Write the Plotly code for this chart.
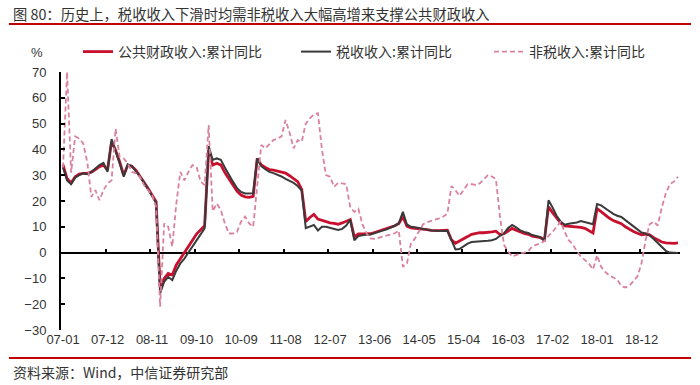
import plotly.graph_objects as go

# ---- data -------------------------------------------------------------
months = [f"{y % 100:02d}-{m:02d}" for y in range(2007, 2020) for m in range(1, 13)][:153]

tick_labels = ["07-01", "07-12", "08-11", "09-10", "10-09", "11-08", "12-07",
               "13-06", "14-05", "15-04", "16-03", "17-02", "18-01", "18-12"]

public_rev = [
    34, 28.7, 27, 29.4, 30.4, 30.7, 30.7, 31.2, 32.2, 33.3, 33.9, 32, 43, 39.7, 35.2, 30,
    33.9, 33.5, 32, 29.7, 27.5, 24.9, 22.3, 19.7, -13.2, -10, -8.1, -8.7, -4.8, -2.3, 0.3, 2.5,
    4.8, 7.2, 9, 10.4, 39.7, 33.9, 34.6, 34, 31, 28.5, 26.3, 23.8, 22.3, 21.6, 21.4, 21.8,
    36.5, 34, 33, 32.2, 32, 31.6, 31.2, 30.8, 29.8, 28.8, 27.5, 24.5, 12, 13.6, 14.8, 13,
    12.4, 12, 11.5, 11.3, 11, 11.5, 12.3, 12.8, 6.1, 7.2, 7.2, 7.3, 7.3, 7.8, 8.3, 8.7,
    9.2, 9.6, 10.4, 11.3, 13.9, 10.2, 9.6, 9.4, 9.3, 9.1, 8.9, 8.6, 8.5, 8.5, 8.6, 8.7,
    5, 3.6, 4.5, 5.2, 6.2, 7.1, 7.4, 7.7, 7.7, 7.8, 8, 8.3, 7, 7.3, 8.5, 9.4,
    8.7, 8, 7.4, 7.1, 6.4, 6.1, 5.8, 5, 17.8, 15.5, 13.5, 11.5, 10.4, 10.3, 10.2, 10,
    9.8, 9.4, 8.5, 7.6, 17.1, 15.7, 14.6, 13.4, 12.4, 11.8, 11.2, 10, 9, 8.2, 7.5, 6.9,
    7.2, 6.9, 5.8, 4.8, 4.1, 3.8, 3.6, 3.6, 3.8,
]

tax_rev = [
    33, 28, 26.5, 29, 30, 30.7, 30.4, 31.2, 32.6, 33.9, 34.8, 31.3, 44, 39.7, 34.6, 29.4,
    34.2, 33.5, 31.6, 29.5, 27.3, 24.7, 22, 19.3, -15.8, -11.3, -9.4, -10.7, -7, -4.2, -2.3, 0,
    2.5, 4.8, 7.2, 9.4, 41.3, 35.9, 36.5, 36, 33, 30, 27.5, 25, 23.5, 22.9, 22.9, 23,
    36.5, 33.5, 32.3, 31.3, 30.8, 30.3, 29.5, 28.6, 27.9, 27, 25.8, 24, 9.5, 10, 10.7, 8.6,
    10, 10, 9.5, 9.2, 8.8, 9.2, 10.5, 12.8, 4.8, 6.4, 6.8, 7, 7, 7.6, 8.2, 8.5,
    9, 9.6, 10.4, 11.3, 15.8, 10.9, 10, 9.8, 9.4, 9.1, 8.9, 8.6, 8.5, 8.4, 8.4, 8.5,
    4.5, 1.2, 1.4, 2.4, 3.5, 4.1, 4.2, 4.2, 4.4, 4.6, 4.8, 5.3, 6.5, 7.5, 9.5, 10.7,
    9.8, 8.6, 8, 7.6, 6.8, 6.5, 6, 4.5, 20.3, 17.5, 14.3, 12, 10.8, 11.2, 11.4, 11.7,
    12.2, 11.9, 11.4, 11, 18.8, 18.3, 17.2, 16, 15, 14.3, 13.8, 12.6, 11.4, 10, 8.8, 7.8,
    7.4, 6.6, 5.3, 3.8, 2.4, 0.7, 0, -0.1, -0.2,
]

nontax_rev = [
    33, 70, 31, 45, 44.2, 42.3, 35, 21.6, 24.2, 20.3, 24.2, 26.8, 28, 48, 37.1, 36.5,
    34.6, 31.3, 30.7, 29.4, 26.2, 24.2, 22.3, 17.8, -21, 11.3, 10, 2.3, 19, 31.3, 28, 31.3,
    33.9, 33.3, 27.5, 26.2, 49.4, 16, 19, 16.5, 11.3, 7.4, 7.4, 8, 12, 14, 11.3, 10,
    25, 41.7, 40.4, 42, 43.6, 44.2, 45, 51.4, 46.5, 40.4, 43.6, 43, 50, 52, 53.5, 54,
    40, 30, 29.4, 25.5, 27, 26.8, 26.5, 17.5, 15.8, 17, 11, 7.5, 5.5, 5.3, 5.7, 6.1,
    6.4, 6.8, 7.5, 8.5, -5.5, -4.2, 3.5, 5.5, 8, 11, 11.8, 12.2, 12.8, 13.3, 14, 15,
    25.8, 24.2, 22, 24.5, 26.5, 26.5, 26.2, 26.8, 28.5, 30, 29.5, 28.5, 14, 3, 0.5, -1.5,
    -1, -0.3, 0, 0.5, 2.5, 3, 3.6, 4.5, 6.5, 8, 10, 12, 8, 4.8, 3.2, 0.5,
    -1.5, -3, -4.3, -6.5, -1, -5.5, -7.5, -8.8, -9.5, -10.5, -13, -13.5, -12.8, -11, -9.2, -4,
    4.8, 11, 12, 10.5, 17.5, 23, 26.5, 27.5, 29.4,
]

series_names = ["公共财政收入:累计同比", "税收收入:累计同比", "非税收入:累计同比"]
title_text = "图 80：历史上，税收收入下滑时均需非税收入大幅高增来支撑公共财政收入"
source_text = "资料来源：Wind，中信证券研究部"

# ---- geometry helpers (pixel -> paper) --------------------------------
W, H = 700, 385
L, R, T, B = 61, 20, 72, 55
PW, PH = W - L - R, H - T - B


def px(x):
    return (x - L) / PW


def py(y):
    return (H - B - y) / PH


CJK = "Noto Sans CJK SC"
LAT = "Liberation Sans, Arial, Noto Sans CJK SC"
RED = "#C8102E"
DARK = "#3a3a3a"
PINK = "#D9829E"

fig = go.Figure()
fig.add_trace(go.Scatter(x=months, y=public_rev, name=series_names[0], mode="lines",
                         line=dict(color=RED, width=2.8), legend="legend"))
fig.add_trace(go.Scatter(x=months, y=tax_rev, name=series_names[1], mode="lines",
                         line=dict(color=DARK, width=2), legend="legend2"))
fig.add_trace(go.Scatter(x=months, y=nontax_rev, name=series_names[2], mode="lines",
                         line=dict(color=PINK, width=1.8, dash="5px,3px"), legend="legend3"))
# helper trace so the zero-line tick axis is drawn
fig.add_trace(go.Scatter(x=[None], y=[None], xaxis="x2", showlegend=False,
                         hoverinfo="skip", mode="lines"))

label_idx = [months.index(t) for t in tick_labels]
boundary_ticks = [i - 0.5 for i in label_idx if i > 0]

leg_common = dict(orientation="h", xanchor="left", y=py(36), yanchor="top",
                  font=dict(family=CJK, size=14, color="#333333"),
                  bgcolor="rgba(0,0,0,0)")

fig.update_layout(
    width=W, height=H,
    margin=dict(l=L, r=R, t=T, b=B),
    paper_bgcolor="white", plot_bgcolor="white",
    showlegend=True,
    legend=dict(x=px(78), **leg_common),
    legend2=dict(x=px(296), **leg_common),
    legend3=dict(x=px(489), **leg_common),
    xaxis=dict(type="category", categoryorder="array", categoryarray=months,
               range=[-0.5, len(months) - 0.5],
               tickmode="array", tickvals=tick_labels, ticktext=tick_labels,
               ticks="", showline=False, showgrid=False, zeroline=False,
               tickfont=dict(family=LAT, size=13, color="#333333")),
    xaxis2=dict(overlaying="x", anchor="free", position=0.3,
                type="linear", range=[-0.5, len(months) - 0.5],
                tickmode="array", tickvals=boundary_ticks, showticklabels=False,
                ticks="inside", ticklen=4, tickwidth=2, tickcolor="black",
                showline=False, showgrid=False, zeroline=False),
    yaxis=dict(range=[-30, 70], dtick=10, tick0=0,
               showline=True, linecolor="black", linewidth=2,
               ticks="inside", ticklen=4, tickwidth=2, tickcolor="black",
               showgrid=False, zeroline=True, zerolinecolor="black", zerolinewidth=2,
               ticklabelstandoff=10,
               tickfont=dict(family=LAT, size=13, color="#333333")),
    annotations=[
        dict(text=title_text, xref="paper", yref="paper", x=px(11), y=py(13),
             xanchor="left", yanchor="middle", showarrow=False,
             font=dict(family=CJK, size=14.3, color="#333333")),
        dict(text=source_text, xref="paper", yref="paper", x=px(11), y=py(372),
             xanchor="left", yanchor="middle", showarrow=False,
             font=dict(family=CJK, size=14, color="#333333")),
        dict(text="%", xref="paper", yref="paper", x=px(37), y=py(52),
             xanchor="center", yanchor="middle", showarrow=False,
             font=dict(family=LAT, size=13, color="#333333")),
    ],
    shapes=[
        dict(type="line", xref="paper", yref="paper", x0=px(9), x1=px(691),
             y0=py(24), y1=py(24), line=dict(color="#C00000", width=2)),
        dict(type="line", xref="paper", yref="paper", x0=px(9), x1=px(691),
             y0=py(358), y1=py(358), line=dict(color="#C00000", width=2)),
    ],
)

fig.write_html("out.html")
